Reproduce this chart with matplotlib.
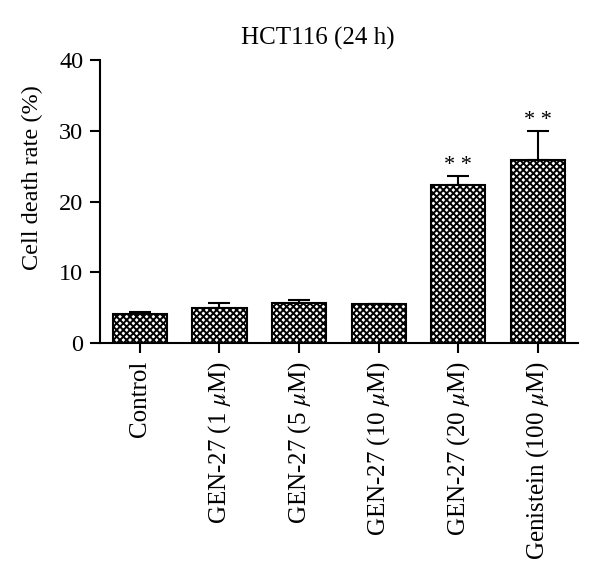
import matplotlib
matplotlib.use("Agg")
import matplotlib.pyplot as plt

groups = ["Control", r"GEN-27 (1 $\mu$M)", r"GEN-27 (5 $\mu$M)", r"GEN-27 (10 $\mu$M)",
          r"GEN-27 (20 $\mu$M)", r"Genistein (100 $\mu$M)"]
death_rate = [4.1, 5.0, 5.7, 5.45, 22.3, 25.8]
sem = [0.3, 0.65, 0.4, 0.1, 1.25, 4.1]
signif = ["", "", "", "", "**", "**"]

plt.rcParams["font.family"] = "Liberation Serif"
plt.rcParams["mathtext.fontset"] = "stix"
plt.rcParams["hatch.linewidth"] = 1.4

fig = plt.figure(figsize=(6, 5.85), dpi=100)
ax = fig.add_axes([0.1667, 0.4137, 0.7963, 0.4837])

x = range(len(groups))
ax.bar(x, death_rate, width=0.68, color="white", edgecolor="black",
       linewidth=1.5, hatch="xxxxx", zorder=2)
ax.errorbar(x, death_rate, yerr=[[0] * len(sem), sem], fmt="none",
            ecolor="black", elinewidth=1.5, capsize=8, capthick=1.5, zorder=1)

for xi, v, e, s in zip(x, death_rate, sem, signif):
    if s:
        ax.text(xi, v + e + 0.25, "* *", ha="center", va="bottom", fontsize=16)

ax.set_xlim(-0.5, 5.5)
ax.set_ylim(0, 40)
ax.set_yticks([0, 10, 20, 30, 40])
ax.set_xticks(list(x))
ax.set_xticklabels(groups, rotation=90, fontsize=18)
ax.tick_params(axis="y", labelsize=17.5, length=7, width=1.5, pad=5)
ax.tick_params(axis="x", length=7, width=1.5, pad=6)
ax.set_ylabel("Cell death rate (%)", fontsize=17.5)
ax.yaxis.set_label_coords(-0.119, 0.583)
ax.set_title("HCT116 (24 h)", fontsize=18, x=0.456, pad=11)

for side in ["top", "right"]:
    ax.spines[side].set_visible(False)
for side in ["left", "bottom"]:
    ax.spines[side].set_linewidth(1.5)

fig.savefig("out.png", dpi=100)
